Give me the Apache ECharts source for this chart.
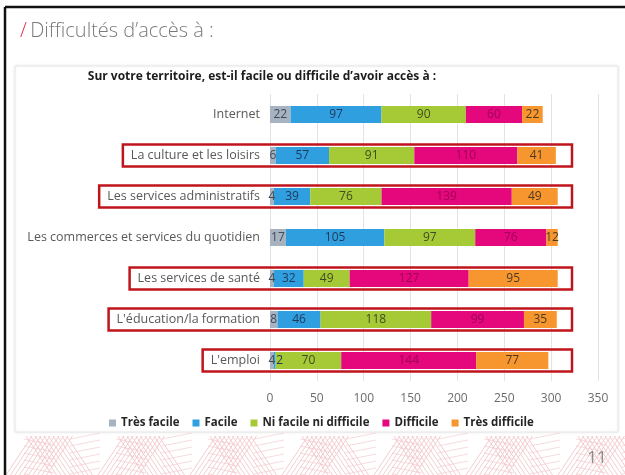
<!DOCTYPE html>
<html>
<head>
<meta charset="utf-8">
<script src="https://cdn.jsdelivr.net/npm/echarts@6/dist/echarts.min.js"></script>
<style>
  html, body { margin: 0; padding: 0; background: #fff; }
  #box { width: 625px; height: 475px; }
</style>
</head>
<body>
<div id="box"></div>
<script>
var myChart;

// data
const categories = [
  "Internet",
  "La culture et les loisirs",
  "Les services administratifs",
  "Les commerces et services du quotidien",
  "Les services de santé",
  "L'éducation/la formation",
  "L'emploi"
];
const tresFacile = [22, 6, 4, 17, 4, 8, 4];
const facile = [97, 57, 39, 105, 32, 46, 2];
const niFacile = [90, 91, 76, 97, 49, 118, 70];
const difficile = [60, 110, 139, 76, 127, 99, 144];
const tresDifficile = [22, 41, 49, 12, 95, 35, 77];
const highlighted = [1, 2, 4, 5, 6]; // rows framed in red

const font = "'Open Sans', sans-serif";

function serie(name, data, color, labelColor) {
  return {
    name: name,
    type: "bar",
    stack: "total",
    barWidth: 17,
    // tiny segments: nudge the label so it does not sit on its neighbour
    data: data.map(function (v) {
      return v < 3 ? { value: v, label: { offset: [5, 0] } } : v;
    }),
    itemStyle: { color: color },
    label: {
      show: true,
      position: "inside",
      color: labelColor,
      fontFamily: font,
      fontSize: 12
    }
  };
}

// decorative line pattern at the bottom of the slide
function patternLines() {
  var out = [];
  var top = 436, bot = 475;
  for (var i = 0; i < 14; i++) {
    var x0 = 6 + i * 46;
    var dir = i % 2 === 0 ? 1 : -1;
    for (var k = 0; k < 10; k++) {
      var sx = x0 + k * 4.5;
      out.push({
        type: "line",
        silent: true,
        shape: { x1: sx, y1: bot, x2: sx + dir * 26, y2: top },
        style: { stroke: "#efc2c6", lineWidth: 0.8 }
      });
    }
    for (var k = 0; k < 6; k++) {
      var yy = top + 3 + k * 7;
      out.push({
        type: "line",
        silent: true,
        shape: { x1: x0 + 18, y1: yy, x2: x0 + 48, y2: yy + dir * 6 },
        style: { stroke: "#f2cdd0", lineWidth: 0.7 }
      });
    }
  }
  return out;
}

window.onload = function () {
  myChart = echarts.init(document.getElementById("box"), null, { renderer: "canvas" });

  var option = {
    animation: false,
    backgroundColor: "#fff",
    textStyle: { fontFamily: font },
    grid: { left: 270, right: 27, top: 94, bottom: 94, containLabel: false },
    xAxis: {
      type: "value",
      min: 0,
      max: 350,
      interval: 50,
      axisLine: { show: false },
      axisTick: { show: false },
      splitLine: { lineStyle: { color: "#e3e3e3", width: 1 } },
      axisLabel: { color: "#6b6b6b", fontSize: 12, margin: 12, fontFamily: font }
    },
    yAxis: {
      type: "category",
      inverse: true,
      data: categories,
      axisLine: { show: false },
      axisTick: { show: false },
      axisLabel: { color: "#595959", fontSize: 12.5, margin: 10, fontFamily: font }
    },
    legend: {
      top: 412,
      left: 104,
      orient: "horizontal",
      itemWidth: 7,
      itemHeight: 7,
      itemGap: 13,
      icon: "rect",
      textStyle: { color: "#262626", fontSize: 11.5, fontWeight: "bold", fontFamily: font }
    },
    series: [
      serie("Très facile", tresFacile, "#a7b3c1", "#3f4a57"),
      serie("Facile", facile, "#2f9fe0", "#223a5a"),
      serie("Ni facile ni difficile", niFacile, "#a6ca36", "#3d4a25"),
      serie("Difficile", difficile, "#e5087d", "#a0005a"),
      serie("Très difficile", tresDifficile, "#f7962e", "#4a3a20")
    ]
  };
  myChart.setOption(option);

  // red frames around highlighted rows
  var ctx = document.createElement("canvas").getContext("2d");
  ctx.font = "12.5px " + font;
  var frames = highlighted.map(function (idx) {
    var cy = myChart.convertToPixel({ yAxisIndex: 0 }, categories[idx]);
    var w = ctx.measureText(categories[idx]).width;
    var left = 270 - 10 - w - 8;
    return {
      type: "rect",
      silent: true,
      z: 20,
      shape: { x: left, y: cy - 11, width: 572 - left, height: 22 },
      style: { fill: null, stroke: "#c0141c", lineWidth: 2.5 }
    };
  });

  var deco = [
    // slide edges
    { type: "line", z: 30, silent: true, shape: { x1: 5, y1: 7, x2: 625, y2: 7 }, style: { stroke: "#111", lineWidth: 2.5 } },
    { type: "line", z: 30, silent: true, shape: { x1: 5, y1: 7, x2: 5, y2: 475 }, style: { stroke: "#111", lineWidth: 2.5 } },
    // chart panel
    { type: "rect", z: -5, silent: true, shape: { x: 15, y: 66, width: 603, height: 366 },
      style: { fill: "#fff", stroke: "#e8e8e8", lineWidth: 1, shadowBlur: 3, shadowColor: "rgba(0,0,0,0.08)" } },
    // slide title
    { type: "text", z: 30, silent: true, left: 20, top: 21,
      style: {
        text: "{s|/} {t|Difficultés d’accès à :}",
        rich: {
          s: { fill: "#e0344a", fontSize: 20, fontFamily: font, fontWeight: 300 },
          t: { fill: "#7a7a7a", fontSize: 20, fontFamily: font, fontWeight: 300 }
        }
      } },
    // chart title
    { type: "text", z: 30, silent: true, x: 262, y: 71,
      style: { text: "Sur votre territoire, est-il facile ou difficile d’avoir accès à :", fill: "#1c1c1c",
        fontSize: 12, fontWeight: "bold", fontFamily: font, align: "center" } },
    // page number
    { type: "text", z: 30, silent: true, x: 597, y: 450,
      style: { text: "11", fill: "#8c8c8c", fontSize: 17, fontFamily: font, align: "center" } }
  ];

  myChart.setOption({ graphic: deco.concat(patternLines()).concat(frames) });
  console.log("chart ready");
};
</script>
</body>
</html>
